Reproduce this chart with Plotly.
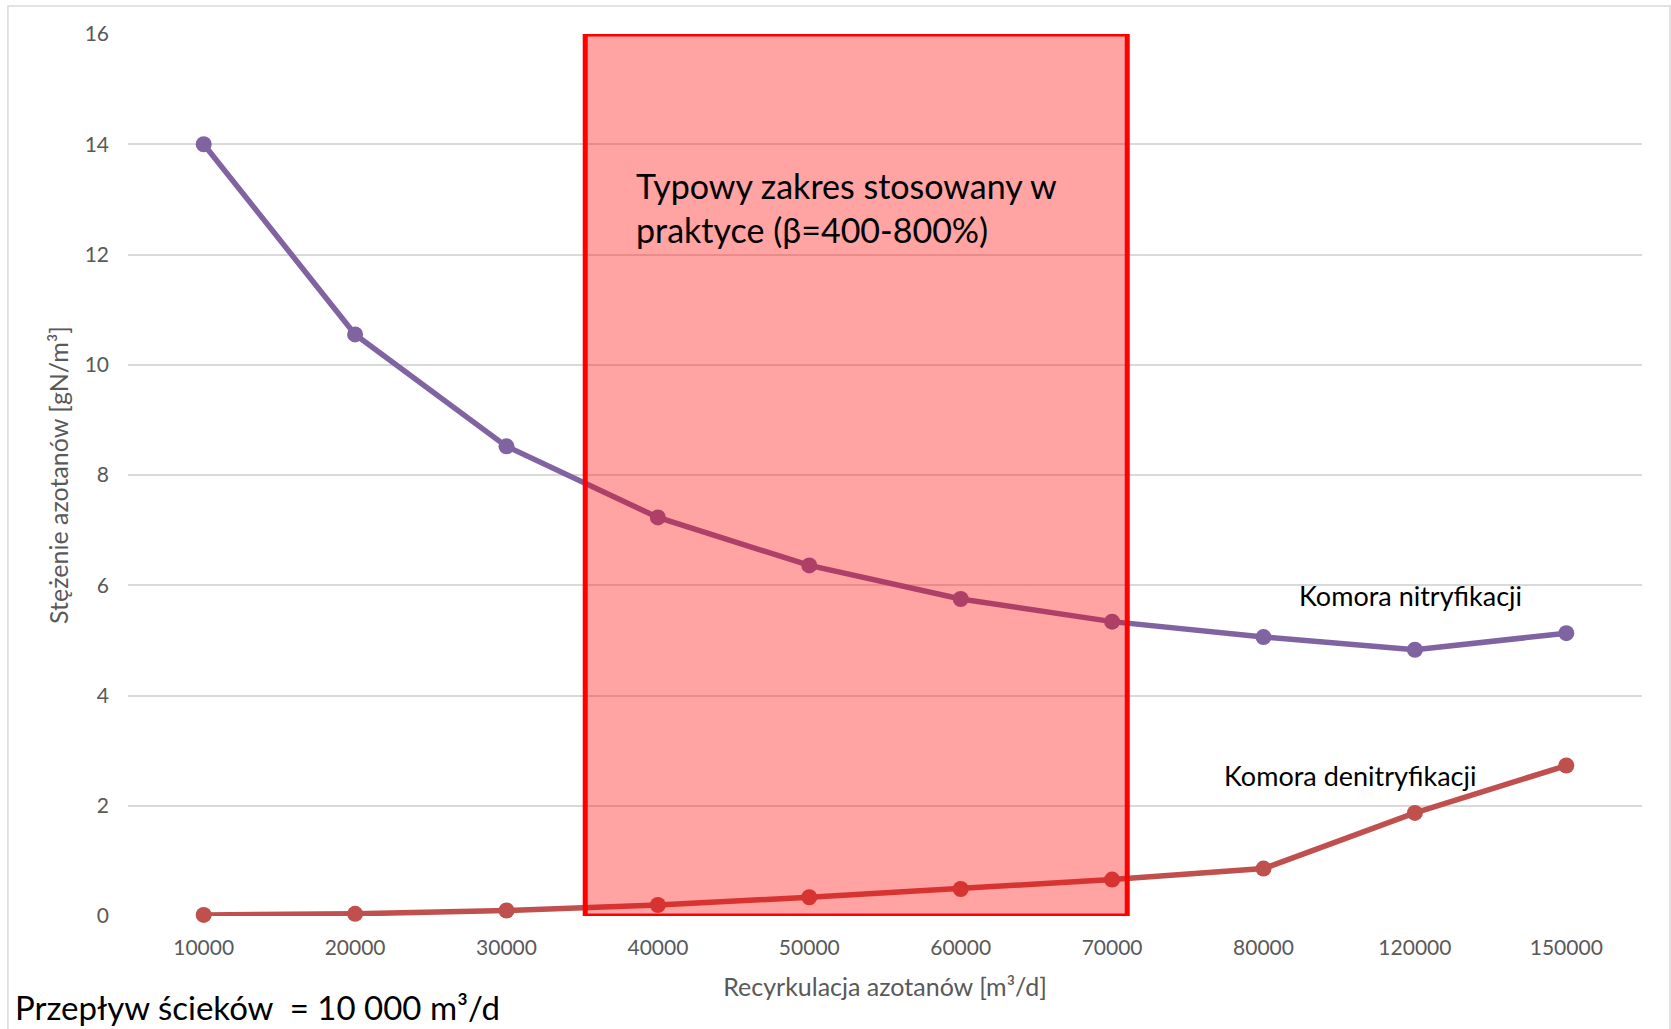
import plotly.graph_objects as go

# Nitrate recirculation flow [m3/d] (categorical axis)
recirculation = ["10000", "20000", "30000", "40000", "50000",
                 "60000", "70000", "80000", "120000", "150000"]

# Nitrate concentration [gN/m3] in the nitrification chamber
nitrification = [14.0, 10.55, 8.52, 7.23, 6.36, 5.75, 5.34, 5.06, 4.83, 5.13]

# Nitrate concentration [gN/m3] in the denitrification chamber
denitrification = [0.02, 0.04, 0.10, 0.20, 0.34, 0.49, 0.66, 0.86, 1.87, 2.73]

y_ticks = [0, 2, 4, 6, 8, 10, 12, 14, 16]

# Typical recirculation range used in practice (category-index units)
range_start, range_end = 2.52, 6.1
range_y = [0, 16]

FONT = "Lato, Carlito, Calibri, sans-serif"
GREY = "#595959"

fig = go.Figure()

fig.add_trace(go.Scatter(
    x=recirculation, y=nitrification, mode="lines+markers",
    name="Komora nitryfikacji",
    line=dict(color="#8064A2", width=5.5),
    marker=dict(color="#8064A2", size=16),
    cliponaxis=False,
))
fig.add_trace(go.Scatter(
    x=recirculation, y=denitrification, mode="lines+markers",
    name="Komora denitryfikacji",
    line=dict(color="#C0504D", width=5.5),
    marker=dict(color="#C0504D", size=16),
    cliponaxis=False,
))

# Highlighted practical range
fig.add_shape(
    type="rect", xref="x", yref="y",
    x0=range_start, x1=range_end, y0=range_y[0], y1=range_y[1],
    fillcolor="rgba(255,0,0,0.36)",
    line=dict(color="#FF0000", width=5),
    layer="above",
)

# Outer chart frame
fig.add_shape(
    type="rect", xref="paper", yref="paper",
    x0=-0.0793, x1=1.0185, y0=-0.2, y1=1.0317,
    line=dict(color="#D9D9D9", width=1.5),
    fillcolor="rgba(0,0,0,0)", layer="below",
)

fig.add_annotation(
    x=2.84, y=12.86, xref="x", yref="y",
    text="Typowy zakres stosowany w<br>praktyce (β=400-800%)",
    showarrow=False, xanchor="left", yanchor="middle", align="left",
    font=dict(family=FONT, size=34, color="black"),
)
fig.add_annotation(
    x=7.97, y=5.82, xref="x", yref="y",
    text="Komora nitryfikacji", showarrow=False,
    font=dict(family=FONT, size=27, color="black"),
)
fig.add_annotation(
    x=7.57, y=2.55, xref="x", yref="y",
    text="Komora denitryfikacji", showarrow=False,
    font=dict(family=FONT, size=27, color="black"),
)
fig.add_annotation(
    x=-0.076, y=-0.103, xref="paper", yref="paper",
    text="Przepływ ścieków  = 10 000 m³/d", showarrow=False,
    xanchor="left", yanchor="middle",
    font=dict(family=FONT, size=33, color="black"),
)

fig.update_layout(
    width=1671, height=1029,
    margin=dict(l=128, r=29, t=34, b=113),
    paper_bgcolor="white", plot_bgcolor="white",
    showlegend=False,
    font=dict(family=FONT, color=GREY),
    xaxis=dict(
        type="category",
        showgrid=False, zeroline=False, showline=False,
        ticks="", ticklabelstandoff=17,
        tickfont=dict(family=FONT, size=21, color=GREY),
        title=dict(text="Recyrkulacja azotanów [m³/d]",
                   font=dict(family=FONT, size=25, color=GREY), standoff=20),
        range=[-0.5, len(recirculation) - 0.5],
    ),
    yaxis=dict(
        range=[0, 16], tickvals=y_ticks,
        showgrid=True, gridcolor="#D9D9D9", gridwidth=1.5,
        zeroline=False, showline=False,
        ticks="", ticklabelstandoff=18,
        tickfont=dict(family=FONT, size=21, color=GREY),
        title=dict(text="Stężenie azotanów [gN/m³]",
                   font=dict(family=FONT, size=25, color=GREY), standoff=8),
    ),
)

fig.write_html("out.html")
